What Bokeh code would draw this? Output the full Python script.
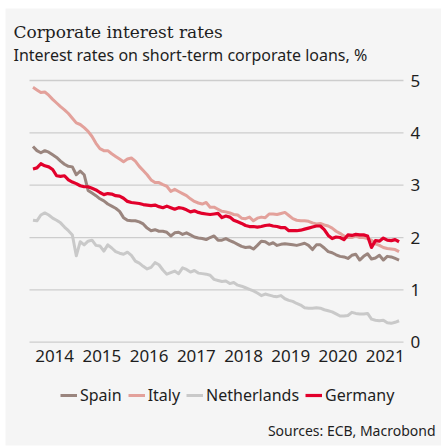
from bokeh.plotting import figure
from bokeh.models import (Range1d, FixedTicker, Label, Legend, LegendItem, BoxAnnotation,
                          ColumnDataSource, CustomJSTickFormatter)
from bokeh.embed import file_html
from bokeh.resources import INLINE

# ---------------- data (monthly, Jan 2014 - Oct 2021) ----------------
start_year = 2014
years = [2014, 2015, 2016, 2017, 2018, 2019, 2020, 2021]
y_ticks = [0, 1, 2, 3, 4, 5]
series_names = ["Spain", "Italy", "Netherlands", "Germany"]

spain = [3.74, 3.66, 3.62, 3.66, 3.63, 3.58, 3.53, 3.46, 3.40, 3.36,
         3.35, 3.20, 3.27, 3.20, 2.90, 2.85, 2.80, 2.74, 2.70, 2.64,
         2.60, 2.56, 2.50, 2.38, 2.33,
         2.32, 2.32, 2.30, 2.26, 2.18, 2.13, 2.15, 2.12, 2.12, 2.10,
         2.03, 2.09, 2.10, 2.06, 2.09, 2.05, 2.01, 1.99, 1.98, 1.96,
         2.00, 2.03, 1.95, 1.95, 1.98,
         1.94, 1.91, 1.87, 1.83, 1.81, 1.82, 1.78, 1.85, 1.93, 1.92,
         1.87, 1.90, 1.85, 1.87, 1.88, 1.87, 1.86, 1.85, 1.87, 1.89,
         1.85, 1.77, 1.86, 1.86, 1.80,
         1.73, 1.71, 1.67, 1.64, 1.63, 1.60, 1.66, 1.68, 1.57, 1.64,
         1.69, 1.59, 1.61, 1.66, 1.57, 1.64, 1.63, 1.60, 1.57]

italy = [4.87, 4.82, 4.77, 4.78, 4.72, 4.64, 4.57, 4.50, 4.44, 4.37,
         4.28, 4.19, 4.16, 4.10, 4.03, 3.93, 3.80, 3.70, 3.66, 3.66,
         3.60, 3.55, 3.50, 3.45, 3.50,
         3.52, 3.46, 3.36, 3.28, 3.20, 3.10, 3.05, 3.05, 3.01, 2.98,
         2.88, 2.92, 2.88, 2.84, 2.80, 2.74, 2.69, 2.66, 2.64, 2.67,
         2.58, 2.58, 2.54, 2.50, 2.49,
         2.47, 2.44, 2.43, 2.37, 2.36, 2.39, 2.32, 2.37, 2.39, 2.38,
         2.45, 2.45, 2.44, 2.46, 2.48, 2.42, 2.36, 2.33, 2.32, 2.32,
         2.31, 2.28, 2.26, 2.27, 2.24,
         2.22, 2.18, 2.12, 2.08, 2.03, 2.00, 2.00, 2.03, 2.00, 2.00,
         1.98, 1.95, 1.88, 1.85, 1.81, 1.79, 1.78, 1.77, 1.73]

netherlands = [2.33, 2.32, 2.43, 2.47, 2.43, 2.37, 2.33, 2.28, 2.20, 2.13,
               2.05, 1.65, 1.92, 1.86, 1.93, 1.95, 1.85, 1.84, 1.74, 1.86,
               1.80, 1.73, 1.70, 1.68, 1.72,
               1.66, 1.55, 1.51, 1.45, 1.40, 1.43, 1.52, 1.48, 1.38, 1.30,
               1.33, 1.36, 1.31, 1.42, 1.39, 1.34, 1.37, 1.32, 1.31, 1.30,
               1.28, 1.20, 1.18, 1.16, 1.17,
               1.12, 1.14, 1.09, 1.07, 1.04, 1.01, 0.98, 0.94, 0.89, 0.92,
               0.90, 0.88, 0.87, 0.89, 0.83, 0.80, 0.78, 0.74, 0.71, 0.66,
               0.65, 0.65, 0.66, 0.65, 0.62,
               0.60, 0.58, 0.54, 0.50, 0.50, 0.51, 0.57, 0.55, 0.54, 0.54,
               0.55, 0.44, 0.42, 0.41, 0.42, 0.37, 0.36, 0.38, 0.41]

germany = [3.31, 3.33, 3.41, 3.37, 3.35, 3.30, 3.18, 3.17, 3.18, 3.10,
           3.06, 3.03, 2.99, 2.97, 2.97, 2.94, 2.91, 2.86, 2.82, 2.84,
           2.83, 2.80, 2.79, 2.75, 2.69,
           2.67, 2.66, 2.65, 2.63, 2.62, 2.61, 2.62, 2.59, 2.57, 2.60,
           2.57, 2.54, 2.57, 2.56, 2.53, 2.49, 2.51, 2.48, 2.46, 2.45,
           2.44, 2.45, 2.46, 2.38, 2.41,
           2.39, 2.33, 2.30, 2.27, 2.23, 2.21, 2.21, 2.20, 2.21, 2.23,
           2.24, 2.22, 2.21, 2.19, 2.19, 2.13, 2.13, 2.13, 2.14, 2.16,
           2.18, 2.20, 2.22, 2.22, 2.15,
           2.04, 1.98, 2.01, 2.00, 1.96, 2.05, 2.04, 2.06, 2.05, 2.05,
           2.03, 1.81, 1.94, 1.93, 1.99, 1.95, 1.94, 1.96, 1.92]

n = min(len(spain), len(italy), len(netherlands), len(germany))
months = [start_year + (i + 0.5) / 12.0 for i in range(n)]

# ---------------- styles / layout ----------------
W, H = 441, 446
BG = "#f5f5f5"
TXT = "#1e1e1e"
COLORS = {"Spain": "#9a857e", "Italy": "#e3a19b", "Netherlands": "#c9c9c9", "Germany": "#e2002b"}
WIDTHS = {"Spain": 3, "Italy": 3, "Netherlands": 3, "Germany": 3.2}
GRID_START, GRID_END = 2013.968, 2021.885      # horizontal extent of the grid lines
X_START, X_END = 2013.354, 2022.690            # full canvas width
Y_START, Y_END = -1.993, 6.529                 # full canvas height

src = ColumnDataSource(dict(x=months, Spain=spain[:n], Italy=italy[:n],
                            Netherlands=netherlands[:n], Germany=germany[:n]))
grid_src = ColumnDataSource(dict(x0=[GRID_START] * len(y_ticks), x1=[GRID_END] * len(y_ticks),
                                 y=y_ticks))

p = figure(width=W, height=H, output_backend="svg", toolbar_location=None,
           x_range=Range1d(X_START, X_END), y_range=Range1d(Y_START, Y_END),
           min_border=0, min_border_left=0, min_border_right=0,
           min_border_top=0, min_border_bottom=0,
           y_axis_location="right", background_fill_color="white", border_fill_color="white",
           outline_line_color=None)
p.title.visible = False
p.xgrid.visible = False
p.ygrid.visible = False

# grey chart panel (white page edge on the left / top / bottom as in the reference)
panel = BoxAnnotation(left=5, right=W, top=H - 8, bottom=H - 445,
                      left_units="screen", right_units="screen",
                      top_units="screen", bottom_units="screen",
                      fill_color=BG, fill_alpha=1.0, line_color=None, level="underlay")
p.add_layout(panel)

p.segment(x0="x0", x1="x1", y0="y", y1="y", source=grid_src,
          line_color="#cdcdcd", line_width=1.3)

p.xaxis.ticker = FixedTicker(ticks=[y + 0.5 for y in years])
p.xaxis.formatter = CustomJSTickFormatter(code="return String(Math.floor(tick));")
p.xaxis.fixed_location = 0
p.yaxis.ticker = FixedTicker(ticks=y_ticks)
p.yaxis.fixed_location = GRID_END

for ax in (p.xaxis[0], p.yaxis[0]):
    ax.axis_line_color = None
    ax.major_tick_line_color = None
    ax.minor_tick_line_color = None
    ax.major_tick_out = 0
    ax.major_tick_in = 0
    ax.major_label_text_font = "Noto Sans"
    ax.major_label_text_font_size = "17px"
    ax.major_label_text_color = TXT
p.xaxis.major_label_standoff = 8
p.yaxis.major_label_standoff = 7

renderers = {}
for name in ["Netherlands", "Spain", "Italy", "Germany"]:
    renderers[name] = p.line("x", name, source=src, line_color=COLORS[name],
                             line_width=WIDTHS[name], line_join="round")

legend = Legend(items=[LegendItem(label=nm, renderers=[renderers[nm]]) for nm in series_names],
                orientation="horizontal", location=(60, 40),
                glyph_width=17, glyph_height=20, label_standoff=3, spacing=6,
                padding=0, margin=0, background_fill_alpha=0, border_line_color=None,
                label_text_font="Noto Sans", label_text_font_size="16px",
                label_text_color=TXT, label_height=20)
p.add_layout(legend)

title = Label(x=13, y=H - 31.8, x_units="screen", y_units="screen",
              text="Corporate interest rates", text_font="DejaVu Serif",
              text_font_size="17px", text_color=TXT, text_baseline="middle")
subtitle = Label(x=13, y=H - 54.5, x_units="screen", y_units="screen",
                 text="Interest rates on short-term corporate loans, %", text_font="Noto Sans",
                 text_font_size="16px", text_color=TXT, text_baseline="middle")
source = Label(x=435, y=H - 430.3, x_units="screen", y_units="screen",
               text="Sources: ECB, Macrobond", text_font="Noto Sans",
               text_font_size="14px", text_color=TXT, text_baseline="middle",
               text_align="right")
for lab in (title, subtitle, source):
    p.add_layout(lab)

open("out.html", "w").write(file_html(p, INLINE))
